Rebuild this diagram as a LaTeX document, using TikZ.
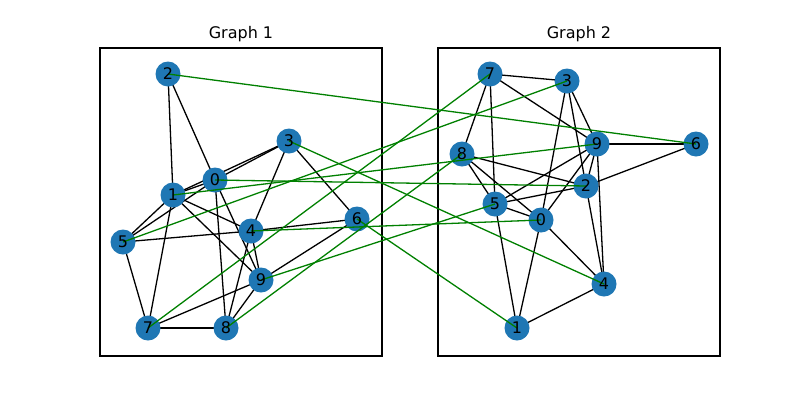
\documentclass[tikz,border=0pt]{standalone}
\usepackage{fontspec}
\setmainfont{DejaVu Sans}
\begin{document}
\begin{tikzpicture}[x=1pt,y=-1pt,
  dot/.style={circle,fill={rgb,255:red,31;green,119;blue,180},minimum size=25pt,inner sep=0pt},
  lab/.style={inner sep=0pt,font=\fontsize{16}{18}\selectfont},
  e/.style={black,line width=1.3pt},
  g/.style={draw={rgb,255:red,0;green,128;blue,0},line width=1.3pt}]
\useasboundingbox (0,0) rectangle (800,400);
\draw[line width=1.1pt] (100,48) rectangle (382,356);
\draw[line width=1.1pt] (438,48) rectangle (720,356);
\node[lab] (t1) at (241,34) {Graph 1};
\node[lab] (t2) at (579,34) {Graph 2};
\foreach \n/\x/\y in {0/215/180,1/173/195,2/168/74,3/289/141,4/251/231,5/123/242,6/357/219,7/148/328,8/226/328,9/261/280}
  \coordinate (a\n) at (\x,\y);
\foreach \n/\x/\y in {0/541/220,1/517/328,2/586/186,3/567/81,4/604/284,5/495/204,6/696/144,7/490/74,8/462/154,9/597/144}
  \coordinate (b\n) at (\x,\y);
\foreach \u/\v in {2/1,2/0,3/0,3/1,3/4,3/6,0/1,0/5,0/8,0/9,1/5,1/4,1/9,1/7,5/4,5/7,4/6,4/9,4/8,6/9,9/7,9/8,7/8}
  \draw[e] (a\u) -- (a\v);
\foreach \u/\v in {7/3,7/9,7/8,7/5,3/0,3/2,3/9,9/6,9/5,9/2,9/0,9/4,6/2,8/2,8/5,8/0,2/5,2/4,5/0,5/1,0/1,0/4,4/1}
  \draw[e] (b\u) -- (b\v);
\foreach \n in {0,...,9} { \node[dot] (na\n) at (a\n) {}; \node[dot] (nb\n) at (b\n) {}; }
\foreach \u/\v in {2/6,3/4,0/2,1/9,5/3,4/0,6/1,9/5,7/7,8/8}
  \draw[g] (na\u.center) -- (nb\v.center);
\foreach \n in {0,...,9} { \node[lab] (la\n) at (a\n) {\n}; \node[lab] (lb\n) at (b\n) {\n}; }
\end{tikzpicture}
\end{document}
